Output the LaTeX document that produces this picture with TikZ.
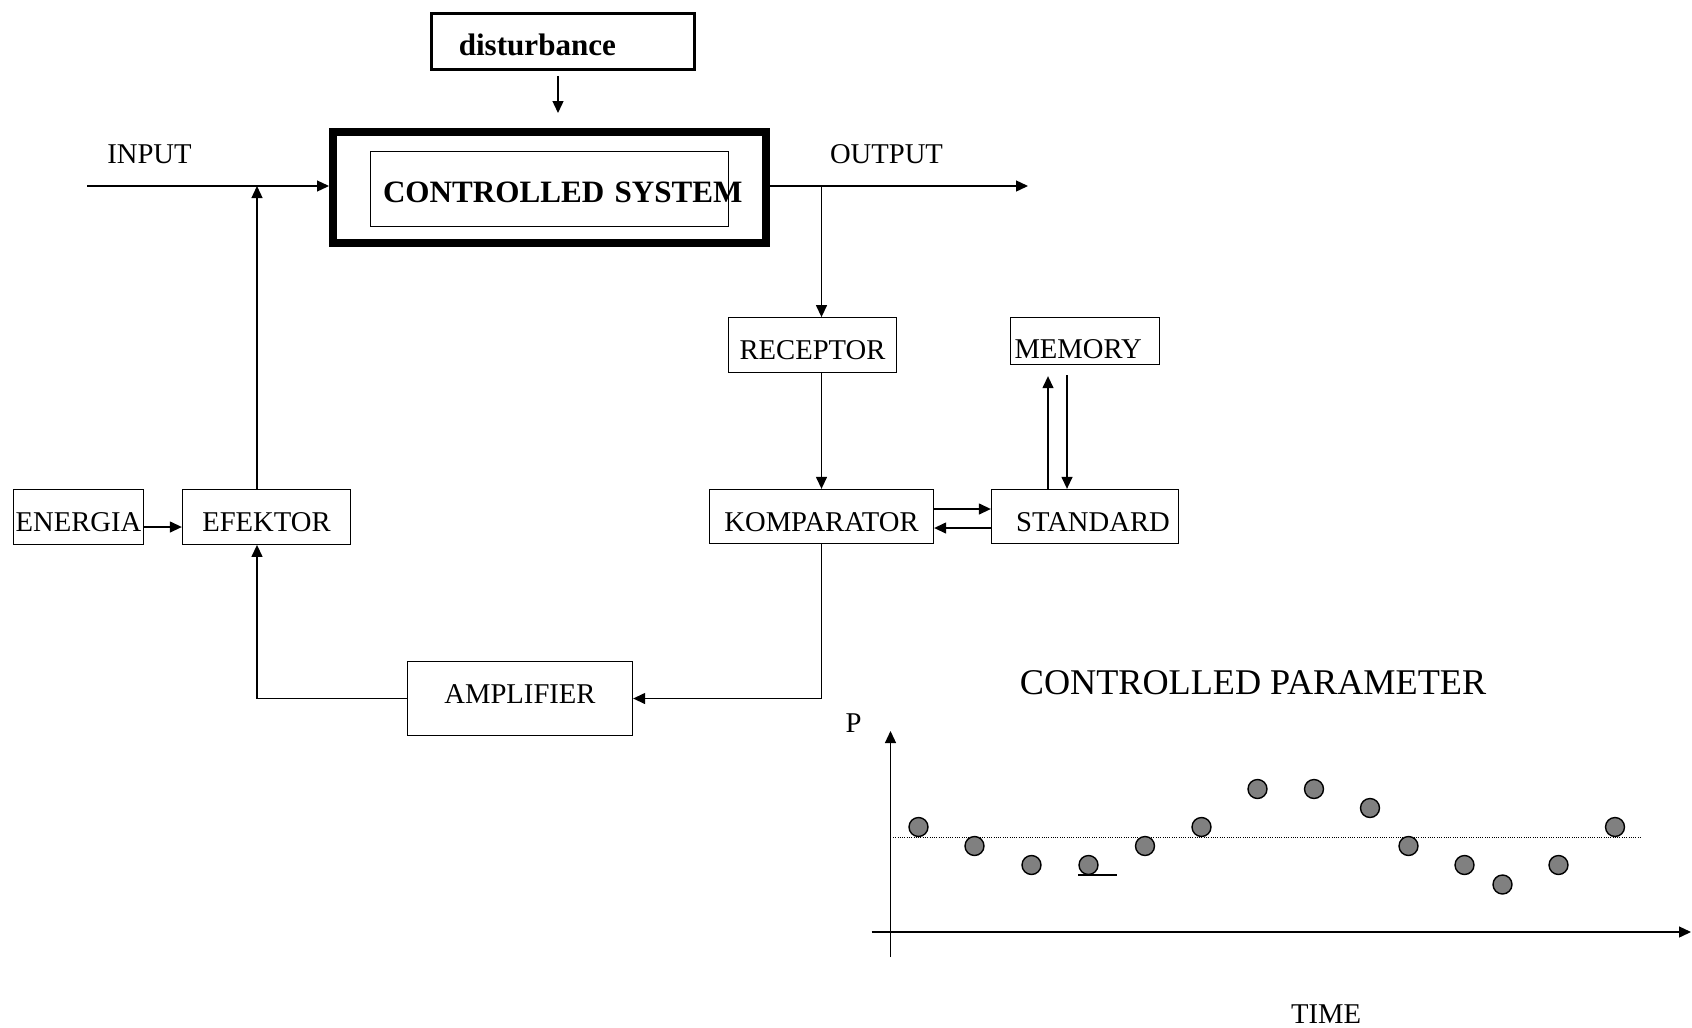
\documentclass[tikz,border=0pt]{standalone}
\usepackage{fontspec}
\setmainfont{Liberation Serif}
\usepackage{tikz}
\usetikzlibrary{arrows.meta,positioning,calc}

\begin{document}
\begin{tikzpicture}[x=0.2mm,y=-0.2mm,
  blk/.style={draw,line width=0.75pt,inner sep=0pt,text height=17pt,text depth=0pt,
              font=\fontsize{16.3}{19}\selectfont},
  bblk/.style={draw,inner sep=0pt,text height=15.4pt,text depth=0pt,
               font=\fontsize{17.7}{21}\selectfont\bfseries},
  txt/.style={inner sep=0pt,font=\fontsize{16.3}{19}\selectfont},
  arr/.style={-{Triangle[length=2.4mm,width=2.2mm]},line width=0.75pt},
  ln/.style={line width=0.75pt},
  dot/.style={circle,draw,fill=gray,line width=0.8pt,minimum size=3.8mm,inner sep=0pt},
]
\useasboundingbox (0,0) rectangle (1692,1027);

% system and disturbance
\node[bblk,line width=1.9pt,text width=41.7mm,inner xsep=5.4mm,align=left,
      minimum height=11.1mm] (dist) at (563,41.5) {disturbance};
\node[draw,line width=4.55pt,minimum width=86.6mm,minimum height=22.2mm,inner sep=0pt] (sys) at (549.5,187.5) {};
\node[bblk,line width=0.4pt,text width=66.4mm,inner xsep=2.6mm,align=left,
      minimum height=15mm] (sysin) at (549,188.5) {\mbox{CONTROLLED SYSTEM}};

% blocks
\node[blk,minimum width=25.9mm,minimum height=10.9mm] (ener) at (78.5,517) {ENERGIA};
\node[blk,minimum width=33.6mm,minimum height=10.9mm] (efe) at (266.5,517) {EFEKTOR};
\node[blk,minimum width=33.6mm,minimum height=10.9mm] (rec) at (812.5,345) {RECEPTOR};
\node[blk,text width=28.2mm,inner xsep=0.8mm,align=left,text height=20.4pt,
      minimum height=9.4mm] (mem) at (1085,341) {MEMORY};
\node[blk,minimum width=44.8mm,minimum height=10.8mm] (kom) at (821.5,516.5) {KOMPARATOR};
\node[blk,minimum width=37.4mm,minimum height=10.8mm] (std) at (1085,516.5) {\hspace{3.2mm}STANDARD};
\node[blk,minimum width=45mm,minimum height=14.8mm,text height=10.8pt,text depth=5pt] (amp) at (520,698.5) {AMPLIFIER};

\node[txt] (inlbl) at (149.5,154.5) {INPUT};
\node[txt] (outlbl) at (886.5,154.5) {OUTPUT};

\coordinate (in) at (87,186);
\coordinate (out) at (1028,186);
\coordinate (col) at (257,186);

% connectors
\draw[arr,shorten <=1mm,shorten >=3mm] (dist.south -| 558,0) -- (sys.north -| 558,0);
\draw[arr] (in) -- (sys.west |- in);
\draw[arr] (sys.east |- out) -- (out);
\draw[arr] (kom.north |- out) -- (kom.north |- rec.north);
\draw[arr] (kom.north |- rec.south) -- (kom.north);
\draw[arr] ([yshift=1.5mm]kom.east) -- ([yshift=1.5mm]std.west);
\draw[arr] ([yshift=-2.3mm]std.west) -- ([yshift=-2.3mm]kom.east);
\draw[arr,shorten >=2.2mm] ([xshift=-7.4mm]std.north) -- ([xshift=-7.4mm]std.north |- mem.south);
\draw[arr,shorten <=2mm] ([xshift=-3.6mm]std.north |- mem.south) -- ([xshift=-3.6mm]std.north);
\draw[arr] ([yshift=-2mm]ener.east) -- ([yshift=-2mm]efe.west);
\draw[arr] (col |- efe.north) -- (col);
\draw[arr] (kom.south) |- (amp.east);
\draw[arr] (amp.west) -| (col |- efe.south);

% controlled parameter chart
\node[txt,font=\fontsize{20.6}{24}\selectfont] (title) at (1253,683) {CONTROLLED PARAMETER};
\node[txt] (plbl) at (853.5,723) {P};
\node[txt] (tlbl) at (1326,1014) {TIME};
\coordinate (ylo) at (890.5,957);
\coordinate (yhi) at (890.5,731);
\coordinate (xlo) at (871.5,932);
\coordinate (xhi) at (1691,932);
\draw[arr] (ylo) -- (yhi);
\draw[arr] (xlo) -- (xhi);
\draw[densely dotted,line width=0.3pt] (893,837) -- (1642,837);
\foreach \x/\y [count=\i] in {918.5/827,974.5/846,1031.5/865,1088.5/865,1145/846,
    1201.5/827,1257.5/789,1314/789,1370/808,1408.5/846,1464.5/865,1502.5/884.5,
    1558.5/865,1615/827}
  \node[dot] (d\i) at (\x,\y) {};
\draw[line width=0.4mm] ([xshift=-2.1mm]d4.south) -- ++(39,0);
\end{tikzpicture}
\end{document}
